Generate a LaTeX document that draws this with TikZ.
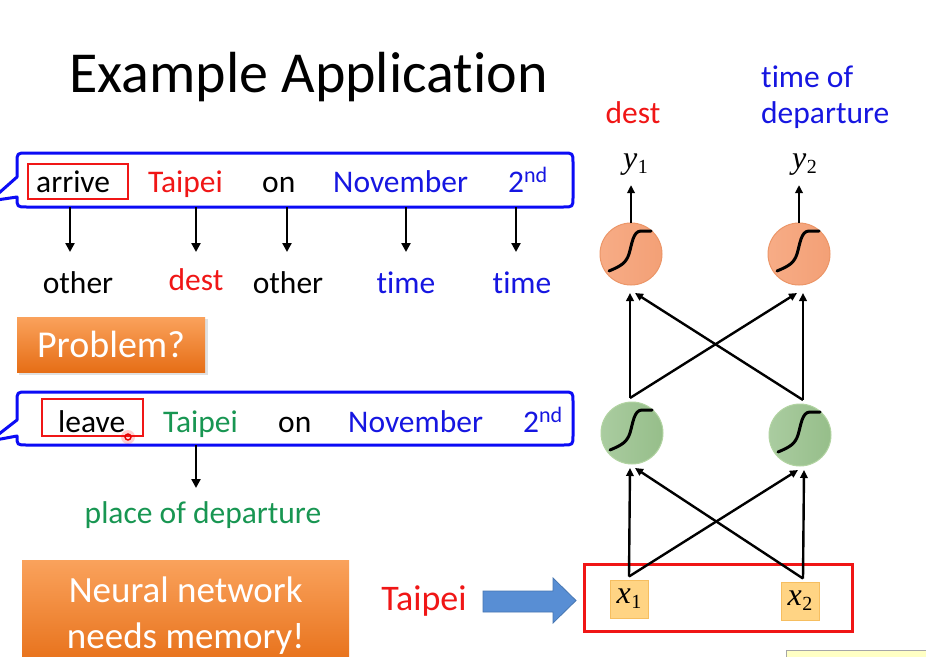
\documentclass[tikz,border=0pt]{standalone}
\usepackage{fontspec}
\setmainfont{Carlito}[Ligatures=NoCommon]
\newfontfamily\tms{Liberation Serif}
\usetikzlibrary{arrows.meta,calc,shadows}

\definecolor{txtred}{RGB}{240,22,22}
\definecolor{txtblue}{RGB}{22,22,225}
\definecolor{txtgreen}{RGB}{24,150,82}
\definecolor{bubbleblue}{RGB}{12,12,245}
\definecolor{boxred}{RGB}{240,22,22}
\definecolor{orangetop}{RGB}{250,162,92}
\definecolor{orangebot}{RGB}{230,110,22}
\definecolor{arrowblue}{RGB}{88,142,212}
\definecolor{arrowedge}{RGB}{70,118,178}
\definecolor{outfill}{RGB}{247,172,134}
\definecolor{outfillR}{RGB}{243,160,118}
\definecolor{outedge}{RGB}{236,150,104}
\definecolor{hidfill}{RGB}{170,204,160}
\definecolor{hidfillR}{RGB}{150,190,138}
\definecolor{hidedge}{RGB}{178,212,162}
\definecolor{inpfill}{RGB}{255,212,132}
\definecolor{inpedge}{RGB}{246,190,96}

% italic variable with a numeric subscript, in a Times-like face
\newcommand\varsub[2]{{\tms\fontsize{32}{34}\selectfont\itshape #1}\kern0.5pt\raisebox{-5pt}{\tms\fontsize{20}{22}\selectfont #2}}

\tikzset{
  word/.style={font=\fontsize{31.5}{36}\selectfont, inner sep=0pt, anchor=base west},
  lbl/.style={font=\fontsize{31.5}{36}\selectfont, inner sep=0pt, anchor=base},
  bubble/.style={draw=bubbleblue, line width=3pt, fill=white, line join=round},
  hilite/.style={draw=boxred, line width=2.6pt, inner sep=0pt},
  arr/.style={line width=2.4pt, -{Triangle[length=9pt,width=9pt]}},
  narr/.style={line width=2.4pt, -{Triangle[length=8pt,width=7.5pt]}},
  orbox/.style={top color=orangetop, bottom color=orangebot, draw=none,
    text=white, font=\fontsize{38}{44}\selectfont, inner sep=0pt},
  outnode/.style={circle, minimum size=62pt, inner sep=0pt, outer sep=0pt,
    left color=outfill, right color=outfillR, draw=outedge, line width=1pt},
  hidnode/.style={circle, minimum size=62pt, inner sep=0pt, outer sep=0pt,
    left color=hidfill, right color=hidfillR, draw=hidedge, line width=1pt},
  inpnode/.style={rectangle, minimum size=38pt, inner sep=0pt,
    fill=inpfill, draw=inpedge, line width=1pt},
  sigmoid/.pic={\draw[line width=3pt, line cap=round]
    (-22,17) .. controls (-10,12) and (-5,9) .. (-2,0)
    .. controls (1,-10) and (2,-23) .. (10,-23) -- (20,-23);},
}

\begin{document}
\begin{tikzpicture}[x=1pt,y=-1pt]
\useasboundingbox (0,0) rectangle (926,656);
\clip (0,0) rectangle (926,656);
\fill[white] (0,0) rectangle (926,656);

% title
\node[font=\fontsize{58}{64}\selectfont, inner sep=0pt, anchor=base west] (title) at (69,92) {Example Application};

% ---------- first sentence ----------
\node[minimum width=556pt, minimum height=54pt, inner sep=0pt] (b1) at (295,180) {};
\draw[bubble] (17,177) -- (17,163) .. controls (17,153) .. (27,153) -- (563,153)
  .. controls (573,153) .. (573,163) -- (573,197) .. controls (573,207) .. (563,207)
  -- (27,207) .. controls (17,207) .. (17,197) -- (-10,201) -- cycle;
\node[hilite, minimum width=100pt, minimum height=35pt] (hl1) at (78,181.5) {};
\node[word] (w11) at (36,192) {arrive};
\node[word, text=txtred] (w12) at (148,192) {Taipei};
\node[word] (w13) at (262,192) {on};
\node[word, text=txtblue] (w14) at (333,192) {November};
\node[word, text=txtblue] (w15) at (508,192) {2\textsuperscript{nd}};

\coordinate (a1) at (70,252);
\coordinate (a2) at (196,252);
\coordinate (a3) at (287,252);
\coordinate (a4) at (406,252);
\coordinate (a5) at (516,252);
\foreach \a in {a1,a2,a3,a4,a5} \draw[arr] (b1.south -| \a) -- (\a);

\node[lbl] (l1) at (78,293) {other};
\node[lbl, text=txtred] (l2) at (196,290) {dest};
\node[lbl] (l3) at (288,293) {other};
\node[lbl, text=txtblue] (l4) at (406,293) {time};
\node[lbl, text=txtblue] (l5) at (522,293) {time};

% ---------- problem ----------
\fill[black, opacity=.12] (19,319) rectangle (207.5,374.5);
\node[orbox, minimum width=188pt, minimum height=55pt] (prob) at (111,344.5) {Problem?};

% ---------- second sentence ----------
\node[minimum width=556pt, minimum height=53pt, inner sep=0pt] (b2) at (295,418.5) {};
\draw[bubble] (17,420) -- (17,402) .. controls (17,392) .. (27,392) -- (563,392)
  .. controls (573,392) .. (573,402) -- (573,435) .. controls (573,445) .. (563,445)
  -- (27,445) .. controls (17,445) .. (17,436) -- (-10,441) -- cycle;
\node[hilite, minimum width=101pt, minimum height=37pt] (hl2) at (92.5,417.5) {};
\node[word] (w21) at (58,432) {leave};
\node[word, text=txtgreen] (w22) at (163,432) {Taipei};
\node[word] (w23) at (278,432) {on};
\node[word, text=txtblue] (w24) at (348,432) {November};
\node[word, text=txtblue] (w25) at (523,432) {2\textsuperscript{nd}};

% pointer mark
\fill[red, opacity=.18] (128,437) circle[radius=7pt];
\draw[red!90!black, line width=1.4pt] (128,437) circle[radius=3pt];

\coordinate (a6) at (196,488);
\draw[arr] (b2.south -| a6) -- (a6);
\node[lbl, text=txtgreen] (l6) at (203,523) {place of departure};

% ---------- memory ----------
\node[orbox, minimum width=327pt, minimum height=110pt, align=center,
  font=\fontsize{37}{46}\selectfont, anchor=north west] (mem) at (22,560)
  {Neural network\\needs memory!};

\node[font=\fontsize{36}{40}\selectfont, text=txtred, inner sep=0pt, anchor=base] (tp) at (424,610) {Taipei};
\draw[fill=arrowblue, draw=arrowedge, line width=0.8pt, line join=miter]
  (483,591) -- (553,591) -- (553,578) -- (576,600.5) -- (553,623) -- (553,612) -- (483,612) -- cycle;

% ---------- network ----------
\node[draw=boxred, line width=3.5pt, minimum width=268pt, minimum height=67pt, inner sep=0pt] (inb) at (718.5,598) {};

\node[inpnode] (x1) at (629,599) {\varsub{x}{1}};
\node[inpnode] (x2) at (800,601) {\varsub{x}{2}};

\node[hidnode] (h1) at (632,433) {};
\node[hidnode] (h2) at (800,435) {};
\pic at (h1) {sigmoid};
\pic at (h2) {sigmoid};

\node[outnode] (o1) at (631,254) {};
\node[outnode] (o2) at (799,254) {};
\pic at (o1) {sigmoid};
\pic at (o2) {sigmoid};

% input layer -> hidden layer
\draw[narr] ([yshift=3pt]x1.north) -- ([xshift=-2pt,yshift=-4pt]h1.south);
\draw[narr] ([yshift=3pt]x1.north) -- ([xshift=-2pt,yshift=-4pt]h2.south);
\draw[narr] ([yshift=3pt,xshift=3pt]x2.north) -- ([xshift=4pt,yshift=-4pt]h2.south);
\draw[narr] ([yshift=3pt,xshift=3pt]x2.north) -- ([xshift=3pt,yshift=-4pt]h1.south);

% hidden layer -> output layer
\draw[narr] ([xshift=-2pt,yshift=4pt]h1.north) -- ([xshift=-1pt,yshift=-8pt]o1.south);
\draw[narr] ([xshift=-2pt,yshift=4pt]h1.north) -- ([xshift=-2pt,yshift=-8pt]o2.south);
\draw[narr] ([xshift=3pt,yshift=4pt]h2.north) -- ([xshift=4pt,yshift=-8pt]o2.south);
\draw[narr] ([xshift=3pt,yshift=4pt]h2.north) -- ([xshift=4pt,yshift=-8pt]o1.south);

\node[inner sep=0pt, anchor=base west] (y1) at (623,168) {\varsub{y}{1}};
\node[inner sep=0pt, anchor=base west] (y2) at (792,168) {\varsub{y}{2}};
\draw[narr] (o1.north) -- ([yshift=-10pt]o1.north |- y1.south);
\draw[narr] (o2.north) -- ([yshift=-10pt]o2.north |- y2.south);

\node[lbl, text=txtred] (dst) at (633,123) {dest};
\node[font=\fontsize{31.5}{36}\selectfont, text=txtblue, inner sep=0pt, anchor=base west] (tod1) at (761,87) {time of};
\node[font=\fontsize{31.5}{36}\selectfont, text=txtblue, inner sep=0pt, anchor=base west] (tod2) at (761,123) {departure};

% corner of a note box
\draw[fill={rgb,255:red,255;green,255;blue,196}, draw=black!35, line width=0.8pt] (786,650) rectangle (940,670);
\end{tikzpicture}
\end{document}
